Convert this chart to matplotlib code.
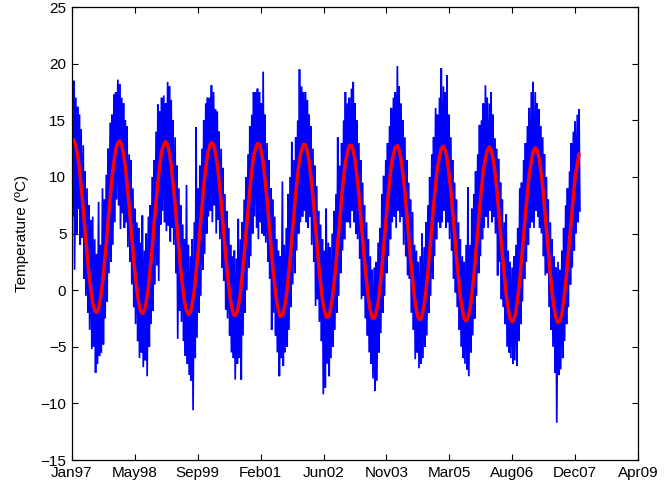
import numpy as np
import pandas as pd
import matplotlib
matplotlib.use('Agg')
import matplotlib.pyplot as plt
import matplotlib.dates as mdates

plt.rcParams['font.family'] = ['Liberation Sans', 'DejaVu Sans']

# semi-monthly sample dates (1st and 15th) from Jan 1997 to Jan 2008
start_date = '1997-01-01'
end_date = '2008-01-15'

# fitted seasonal curve (red), one value per semi-month
red_fit = [
    13.12, 13.25, 12.81, 11.92, 10.79, 9.21, 7.24, 5.28, 3.35, 1.57, -0.02, -1.13, -1.80, -1.97, -1.60, -0.75, 0.61, 2.24, 4.09, 6.05, 8.09, 9.86, 11.34, 12.44,
    12.99, 13.19, 12.83, 12.01, 10.94, 9.39, 7.44, 5.49, 3.55, 1.73, 0.09, -1.09, -1.83, -2.07, -1.77, -1.00, 0.31, 1.90, 3.73, 5.68, 7.74, 9.54, 11.07, 12.24,
    12.85, 13.12, 12.85, 12.09, 11.06, 9.56, 7.65, 5.71, 3.75, 1.90, 0.21, -1.03, -1.83, -2.15, -1.94, -1.24, 0.01, 1.55, 3.36, 5.30, 7.38, 9.21, 10.79, 12.01,
    12.72, 13.05, 12.85, 12.16, 11.19, 9.73, 7.84, 5.91, 3.94, 2.06, 0.32, -0.97, -1.85, -2.24, -2.10, -1.46, -0.28, 1.23, 3.01, 4.95, 7.03, 8.89, 10.52, 11.80,
    12.55, 12.97, 12.84, 12.22, 11.30, 9.89, 8.04, 6.13, 4.15, 2.25, 0.46, -0.89, -1.84, -2.30, -2.24, -1.68, -0.56, 0.90, 2.64, 4.57, 6.66, 8.55, 10.22, 11.56,
    12.37, 12.87, 12.83, 12.27, 11.41, 10.05, 8.24, 6.34, 4.36, 2.44, 0.61, -0.80, -1.81, -2.36, -2.38, -1.88, -0.83, 0.58, 2.29, 4.20, 6.29, 8.20, 9.92, 11.31,
    12.19, 12.75, 12.80, 12.32, 11.51, 10.20, 8.44, 6.55, 4.57, 2.63, 0.76, -0.71, -1.78, -2.40, -2.50, -2.08, -1.09, 0.25, 1.94, 3.82, 5.92, 7.85, 9.60, 11.06,
    11.99, 12.63, 12.76, 12.35, 11.60, 10.35, 8.62, 6.76, 4.79, 2.83, 0.92, -0.59, -1.73, -2.43, -2.61, -2.26, -1.35, -0.06, 1.58, 3.46, 5.55, 7.50, 9.28, 10.79,
    11.80, 12.51, 12.71, 12.38, 11.69, 10.49, 8.80, 6.96, 4.98, 3.02, 1.07, -0.50, -1.70, -2.46, -2.72, -2.44, -1.60, -0.35, 1.25, 3.09, 5.19, 7.15, 8.98, 10.54,
    11.59, 12.36, 12.65, 12.39, 11.76, 10.62, 8.98, 7.17, 5.21, 3.22, 1.24, -0.38, -1.64, -2.46, -2.81, -2.60, -1.84, -0.65, 0.90, 2.72, 4.81, 6.79, 8.65, 10.25,
    11.36, 12.21, 12.57, 12.39, 11.82, 10.75, 9.16, 7.37, 5.42, 3.43, 1.42, -0.24, -1.56, -2.46, -2.88, -2.75, -2.06, -0.94, 0.57, 2.36, 4.44, 6.42, 8.31, 9.96,
    11.12, 12.04,
]

# daily temperature (blue): highest and lowest value in each semi-month
blue_hi = [
    20.8, 18.5, 17.0, 16.2, 15.5, 14.2, 12.8, 10.5, 9.0, 7.5, 6.2, 6.5, 4.5, 3.2, 7.8, 4.0, 9.0, 8.0, 10.2, 12.5, 14.8, 15.5, 17.3, 17.5,
    18.6, 18.2, 17.0, 16.5, 15.0, 14.5, 12.0, 11.5, 9.0, 7.2, 6.0, 5.5, 4.2, 6.6, 3.5, 5.0, 6.5, 7.5, 10.0, 11.5, 14.0, 16.4, 15.8, 17.0,
    17.2, 16.5, 18.4, 18.0, 16.8, 15.0, 13.5, 11.0, 9.0, 7.5, 5.8, 4.5, 9.3, 4.0, 3.0, 4.5, 6.0, 14.4, 9.0, 11.0, 12.5, 15.0, 16.5, 17.0,
    17.0, 18.1, 17.5, 16.0, 15.8, 14.0, 12.5, 10.8, 8.5, 7.0, 5.5, 4.0, 3.0, 3.5, 2.8, 6.3, 4.5, 6.0, 8.0, 10.0, 12.0, 14.5, 15.5, 17.5,
    17.5, 17.8, 17.5, 16.5, 19.3, 15.5, 13.0, 11.5, 9.0, 8.0, 6.5, 4.5, 3.5, 3.0, 9.6, 4.0, 5.5, 8.5, 10.0, 13.1, 11.5, 13.5, 15.0, 19.5,
    18.0, 17.5, 17.5, 16.8, 15.5, 14.5, 12.5, 11.0, 9.2, 7.0, 5.8, 4.5, 3.5, 7.2, 4.2, 3.8, 5.0, 7.0, 8.5, 13.5, 11.0, 13.0, 15.0, 17.5,
    16.5, 17.0, 17.8, 18.4, 16.5, 15.0, 13.0, 11.5, 9.5, 7.5, 6.0, 4.5, 3.0, 1.8, 2.0, 2.5, 4.2, 5.5, 8.5, 10.1, 11.5, 13.0, 14.5, 16.1,
    17.0, 17.5, 19.8, 18.0, 16.5, 15.0, 13.5, 11.5, 9.5, 8.0, 6.9, 4.0, 3.5, 2.5, 3.0, 5.0, 3.8, 6.0, 7.5, 10.0, 12.0, 13.5, 16.1, 15.5,
    17.0, 19.6, 18.0, 17.5, 19.0, 15.5, 13.5, 11.5, 9.5, 8.0, 6.0, 4.5, 3.0, 2.5, 4.0, 9.1, 4.0, 7.2, 8.5, 10.5, 12.0, 14.6, 15.0, 16.5,
    18.1, 17.0, 16.5, 17.5, 15.5, 13.4, 12.5, 11.6, 9.5, 8.0, 6.0, 6.7, 3.5, 2.5, 2.0, 3.0, 4.0, 5.5, 9.0, 9.5, 11.5, 13.0, 14.5, 16.1,
    17.5, 18.4, 17.5, 16.5, 16.0, 14.5, 13.5, 12.0, 10.0, 8.0, 6.0, 4.5, 3.0, 2.0, 2.5, 1.8, 3.5, 5.5, 7.5, 9.0, 10.5, 13.0, 14.0, 14.9,
    15.5, 16.0,
]
blue_lo = [
    6.5, 1.8, 5.0, 7.2, 4.0, 4.6, 1.0, -0.5, -2.0, -3.5, -5.2, -5.0, -7.3, -6.5, -5.8, -5.5, -4.8, -2.5, -1.0, 1.5, 2.5, 4.0, 6.0, 8.0,
    7.5, 5.4, 6.8, 5.5, 6.0, 3.8, 2.5, 0.5, -1.5, -3.0, -4.5, -6.0, -5.5, -6.8, -6.2, -7.6, -5.0, -3.0, -1.8, 0.5, 2.2, 0.8, 5.8, 7.0,
    6.0, 5.2, 5.7, 4.3, 5.5, 4.0, 1.5, -4.3, -1.8, -2.8, -4.5, -5.8, -6.5, -7.5, -8.0, -10.6, -6.0, -4.2, -2.0, -0.5, 1.8, 3.2, 5.0, 6.5,
    7.0, 6.0, 7.5, 5.0, 6.2, 4.5, 2.0, 0.8, -1.7, -2.5, -4.0, -5.5, -6.0, -7.9, -6.5, -6.0, -7.9, -4.0, -2.0, 0.0, 2.0, 3.0, 5.0, 6.5,
    5.5, 4.5, 6.0, 5.0, 4.8, 4.2, 2.5, 1.0, -3.5, -2.0, -4.0, -5.5, -7.6, -6.0, -6.7, -5.5, -5.0, -3.5, -1.5, 0.5, 1.5, 3.5, 5.0, 6.0,
    6.5, 7.0, 6.0, 5.5, 6.5, 4.0, 2.5, -1.4, -0.8, -2.8, -4.5, -9.2, -8.6, -6.5, -7.6, -6.0, -5.0, -3.5, -2.0, -0.5, 1.5, 3.5, 4.5, 6.0,
    6.0, 5.5, 7.0, 6.0, 5.0, 4.5, 2.8, -0.8, -0.5, -2.5, -4.0, -5.5, -6.5, -7.8, -8.9, -8.0, -5.5, -3.8, -2.0, -0.5, 1.5, 3.0, 4.5, 6.0,
    6.5, 5.5, 7.0, 6.0, 6.5, 4.0, 3.0, 1.3, 1.0, -2.0, -3.5, -6.1, -5.5, -6.9, -6.5, -6.0, -5.0, -4.0, -2.0, -0.5, 1.0, 3.0, 4.5, 6.0,
    5.5, 6.0, 7.0, 5.5, 6.0, 4.5, 3.5, 1.0, -0.2, -1.5, -3.5, -5.0, -6.0, -6.5, -7.0, -7.6, -5.5, -4.0, -2.5, -0.5, 1.5, 3.0, 4.5, 5.5,
    6.5, 5.5, 7.0, 6.0, 6.5, 5.0, 1.3, 2.5, -0.8, -1.5, -3.0, -5.0, -5.5, -6.0, -6.5, -6.2, -6.7, -4.5, -3.0, -1.0, 1.0, 2.5, 4.0, 5.5,
    6.0, 5.5, 7.0, 6.5, 5.5, 5.0, 3.0, 1.3, 1.5, -1.5, -3.5, -5.0, -7.3, -11.7, -7.5, -7.0, -6.0, -4.5, -3.0, -1.5, 0.5, 2.0, 3.5, 5.0,
    6.0, 7.0,
]

tick_labels_start = '1997-01-01'
n_ticks = 10
tick_step_days = 500

# ---------------------------------------------------------------
t = pd.date_range(start_date, end_date, freq='SMS')
t_lo = t + pd.Timedelta(days=7)

n = len(t)
bx = np.empty(2 * n, dtype='datetime64[ns]')
by = np.empty(2 * n)
bx[0::2] = t.values
bx[1::2] = t_lo.values
by[0::2] = blue_hi
by[1::2] = blue_lo

fig = plt.figure(figsize=(6.66, 4.87), dpi=100)
ax = fig.add_axes([0.108, 0.0554, 0.850, 0.930])

ax.plot(bx, by, color='#0000FF', lw=1.25, solid_joinstyle='miter')
ax.plot(t, red_fit, color='#FF0000', lw=2.5, solid_capstyle='round')

ticks = pd.date_range(tick_labels_start, periods=n_ticks, freq=f'{tick_step_days}D')
ax.set_xlim(ticks[0], ticks[-1])
ax.set_xticks(ticks)
ax.xaxis.set_major_formatter(mdates.DateFormatter('%b%y'))
ax.set_ylim(-15, 25)
ax.set_yticks(np.arange(-15, 26, 5))

ax.tick_params(direction='in', top=True, right=True, length=4, width=0.8,
               labelsize=11)
ax.tick_params(axis='x', pad=4.5)
ax.tick_params(axis='y', pad=4)
for s in ax.spines.values():
    s.set_linewidth(0.9)
ax.set_ylabel('Temperature (ºC)', fontsize=11, labelpad=8)

fig.savefig('out.png', dpi=100)
